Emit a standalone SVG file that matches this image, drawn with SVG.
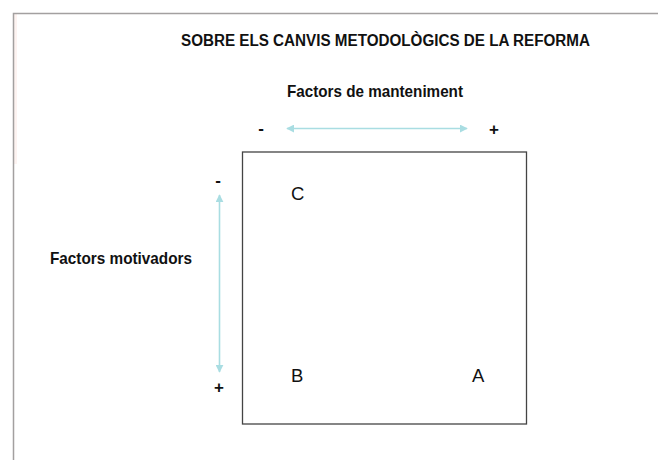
<svg xmlns="http://www.w3.org/2000/svg" width="658" height="460" viewBox="0 0 658 460">
  <defs>
    <style>
      .b { font-family: "Liberation Sans", Arial, sans-serif; font-weight: bold; fill: #111; }
      .r { font-family: "Liberation Sans", Arial, sans-serif; fill: #111; }
      .ax { stroke: #a9dde2; stroke-width: 1.6; fill: none; }
    </style>
    <marker id="ah" viewBox="0 0 10 10" refX="9" refY="5" markerWidth="5" markerHeight="5" orient="auto-start-reverse">
      <path d="M0,0 L10,5 L0,10 z" fill="#a9dde2"/>
    </marker>
  </defs>
  <rect width="658" height="460" fill="#fff"/>
  <rect x="14" y="14" width="3" height="150" fill="#fdf3f1"/>
  <path d="M13.5,460 V13.5 H658" stroke="#a3a0a0" stroke-width="1.5" fill="none"/>
  <text class="b" x="181" y="46" font-size="16" textLength="409" lengthAdjust="spacingAndGlyphs">SOBRE ELS CANVIS METODOLÒGICS DE LA REFORMA</text>
  <text class="b" x="287" y="97" font-size="16.5" textLength="176" lengthAdjust="spacingAndGlyphs">Factors de manteniment</text>
  <text class="b" x="50" y="263.5" font-size="16.5" textLength="142" lengthAdjust="spacingAndGlyphs">Factors motivadors</text>
  <g id="frame">
    <rect x="242.5" y="152" width="284" height="272" fill="none" stroke="#444" stroke-width="1.3"/>
  </g>
  <g id="connectors">
    <line class="ax" x1="287" y1="128.5" x2="467" y2="128.5" marker-start="url(#ah)" marker-end="url(#ah)"/>
    <line class="ax" x1="219.5" y1="195" x2="219.5" y2="372" marker-start="url(#ah)" marker-end="url(#ah)"/>
  </g>
  <g id="signs">
    <text class="b" x="261" y="134" font-size="17" text-anchor="middle">-</text>
    <text class="b" x="494" y="135" font-size="17" text-anchor="middle">+</text>
    <text class="b" x="218" y="186" font-size="17" text-anchor="middle">-</text>
    <text class="b" x="219" y="393" font-size="17" text-anchor="middle">+</text>
  </g>
  <g id="node-C"><text class="r" x="291" y="200" font-size="18.5">C</text></g>
  <g id="node-B"><text class="r" x="291" y="382" font-size="18.5">B</text></g>
  <g id="node-A"><text class="r" x="472" y="382" font-size="18.5">A</text></g>
</svg>
